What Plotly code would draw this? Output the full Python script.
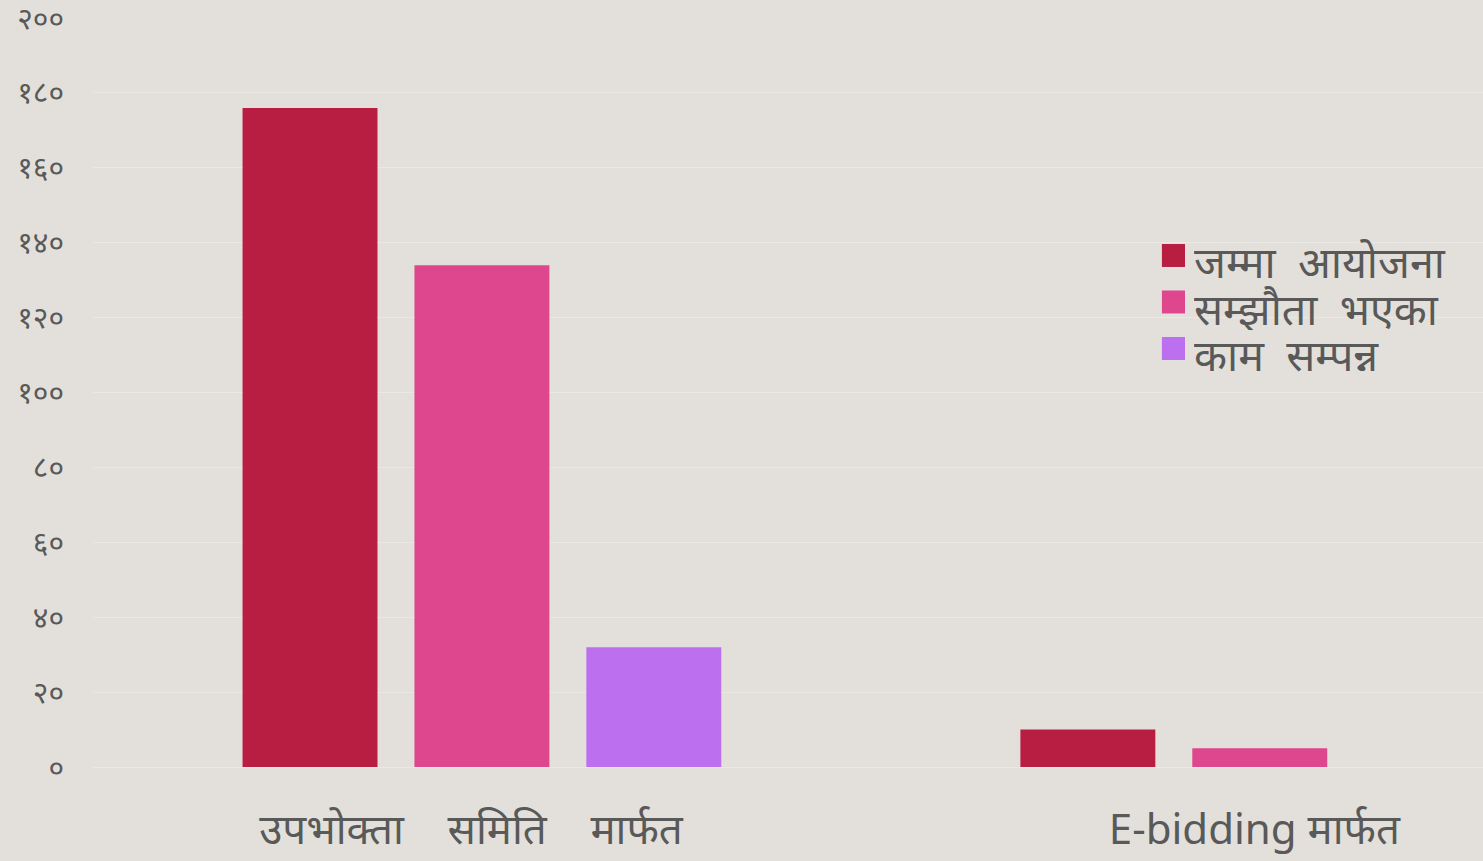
import plotly.graph_objects as go

NB = "\u00a0"
categories = [f"उपभोक्ता{NB*4}समिति{NB*4}मार्फत{NB*2}", f"E-bidding मार्फत{NB}"]
series_names = [f"जम्मा{NB*2}आयोजना", f"सम्झौता{NB*2}भएका", f"काम{NB*2}सम्पन्न"]
total_projects = [176, 10]
agreed = [134, 5]
completed = [32, 0]
colors = ["#B71E42", "#DE478E", "#BC70F0"]

tick_values = [0, 20, 40, 60, 80, 100, 120, 140, 160, 180, 200]
tick_labels = ["०", "२०", "४०", "६०", "८०", "१००", "१२०", "१४०", "१६०", "१८०", "२००"]

fig = go.Figure()
for name, vals, col in zip(series_names, [total_projects, agreed, completed], colors):
    fig.add_trace(go.Bar(x=categories, y=vals, name=name, marker_color=col,
                         marker_line_width=0, showlegend=False))

# custom legend: larger swatches and tighter rows than plotly's own legend
leg_x0, leg_top, sw, row = 0.769, 0.6983, 0.0166, 0.0621
sw_h = 0.0307
for i, (name, col) in enumerate(zip(series_names, colors)):
    top = leg_top - i * row
    fig.add_shape(type="rect", xref="paper", yref="paper",
                  x0=leg_x0, x1=leg_x0 + sw, y0=top - sw_h, y1=top,
                  fillcolor=col, line_width=0)
    fig.add_annotation(x=leg_x0 + sw + 0.006, y=top - sw_h * 0.75, xref="paper", yref="paper",
                       text=name, showarrow=False, xanchor="left", yanchor="middle",
                       height=44, borderpad=0,
                       font={"size": 43, "color": "#595959"})

fig.update_layout(
    width=1483, height=861,
    paper_bgcolor="#e3e0db",
    plot_bgcolor="#e3e0db",
    barmode="group",
    bargap=0.337,
    bargroupgap=0.215,
    margin={"l": 93, "r": 0, "t": 18, "b": 94},
    font={"family": "Noto Sans, sans-serif", "color": "#595959"},
    xaxis={"range": [-0.5, 1.287], "showgrid": False, "ticks": "",
           "tickfont": {"size": 42, "color": "#595959"}, "showline": False,
           "ticklabelstandoff": 34, "automargin": False},
    yaxis={"range": [0, 200], "tickvals": tick_values, "ticktext": tick_labels,
           "tickfont": {"size": 30, "color": "#595959"},
           "gridcolor": "#eae8e5", "gridwidth": 1,
           "zeroline": True, "zerolinecolor": "#eae8e5", "zerolinewidth": 1,
           "ticklabelstandoff": 28, "ticklabeloverflow": "allow",
           "automargin": False},
)

fig.write_html("out.html", config={"displayModeBar": False},
               post_script="document.body.style.margin='0';")
